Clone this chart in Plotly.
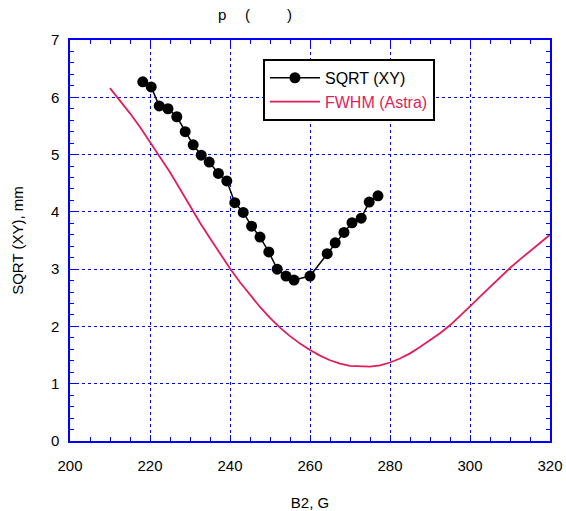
import plotly.graph_objects as go

# SQRT(XY) measured data
sq_x = [218.2, 220.3, 222.3, 224.5, 226.7, 228.8, 230.8, 232.8, 234.8, 237.1, 239.2,
        241.2, 243.3, 245.4, 247.5, 249.7, 251.8, 254.0, 256.0, 260.0,
        264.3, 266.3, 268.5, 270.5, 272.8, 274.8, 277.0]
sq_y = [6.27, 6.18, 5.85, 5.80, 5.66, 5.40, 5.17, 4.99, 4.87, 4.67, 4.54,
        4.16, 3.99, 3.75, 3.56, 3.30, 3.00, 2.88, 2.81, 2.88,
        3.27, 3.46, 3.64, 3.81, 3.89, 4.17, 4.28]

# FWHM (Astra) simulation
fw_x = [210, 212.5, 215, 217.5, 220, 222.5, 225, 227.5, 230, 232.5, 235, 237.5, 240,
        242.5, 245, 247.5, 250, 252.5, 255, 257.5, 260, 262.5, 265, 267.5, 270,
        272.5, 275, 277.5, 280, 282.5, 285, 287.5, 290, 292.5, 295, 297.5, 300,
        302.5, 305, 307.5, 310, 312.5, 315, 317.5, 320]
fw_y = [6.16, 5.95, 5.72, 5.48, 5.22, 4.96, 4.69, 4.40, 4.10, 3.81, 3.54, 3.27, 3.01,
        2.77, 2.55, 2.34, 2.15, 1.98, 1.83, 1.70, 1.59, 1.49, 1.41, 1.35, 1.31,
        1.30, 1.30, 1.32, 1.37, 1.44, 1.53, 1.64, 1.76, 1.88, 2.02, 2.18, 2.35,
        2.52, 2.69, 2.86, 3.02, 3.17, 3.31, 3.46, 3.60]

x_ticks = [200, 220, 240, 260, 280, 300, 320]
y_ticks = [0, 1, 2, 3, 4, 5, 6, 7]

RED = "#e01e5a"
BLUE = "#0000ff"
FONT = "Liberation Sans, Arial, sans-serif"

fig = go.Figure()
fig.add_trace(go.Scatter(
    x=sq_x, y=sq_y, mode="lines+markers", name="SQRT (XY)",
    line=dict(color="black", width=1.5),
    marker=dict(color="black", size=11),
))
fig.add_trace(go.Scatter(
    x=fw_x, y=fw_y, mode="lines", name=f"<span style='color:{RED}'>FWHM (Astra)</span>",
    line=dict(color=RED, width=1.8),
))

axis_common = dict(
    showline=True, linecolor=BLUE, linewidth=1.5, mirror="ticks",
    showgrid=True, gridcolor=BLUE, griddash="3px,3px",
    ticks="inside", tickcolor=BLUE, ticklen=6, tickwidth=1,
    zeroline=False, automargin=False,
    tickfont=dict(size=15, color="black", family=FONT),
)

fig.update_xaxes(
    range=[200, 320], tickvals=x_ticks, ticklabelstandoff=10, gridwidth=1,
    minor=dict(dtick=5, ticks="inside", ticklen=4, tickcolor=BLUE, showgrid=False),
    title=dict(text="B2, G", font=dict(size=15, family=FONT, color="black"), standoff=26),
    **axis_common,
)
fig.update_yaxes(
    range=[0, 7], tickvals=y_ticks, ticklabelstandoff=6, gridwidth=1.4,
    minor=dict(dtick=0.2, ticks="inside", ticklen=4, tickcolor=BLUE, showgrid=False),
    title=dict(text="SQRT (XY), mm", font=dict(size=15, family=FONT, color="black"), standoff=24),
    **axis_common,
)

TOP, BOT = 40, 70
fig.update_layout(
    width=566, height=511,
    margin=dict(l=70, r=16, t=TOP, b=BOT),
    plot_bgcolor="white", paper_bgcolor="white",
    font=dict(family=FONT, size=15, color="black"),
    showlegend=True,
    legend=dict(
        x=0.402, y=0.953, xanchor="left", yanchor="top",
        bgcolor="white", bordercolor="black", borderwidth=2,
        font=dict(size=16, family=FONT, color="black"),
        tracegroupgap=0, itemwidth=50,
    ),
)
# title fragments placed by pixel position converted to paper coords
W, H = 566 - 70 - 16, 511 - TOP - BOT
for txt, px in [("p", 222), ("(", 247), (")", 289)]:
    fig.add_annotation(text=txt, x=(px - 70) / W, y=(511 - BOT - 14) / H, xref="paper", yref="paper",
                       xanchor="center", yanchor="middle",
                       showarrow=False, font=dict(size=15, family=FONT, color="black"))

fig.write_html("out.html", config={"displayModeBar": False},
               post_script="document.body.style.margin='0px';")
